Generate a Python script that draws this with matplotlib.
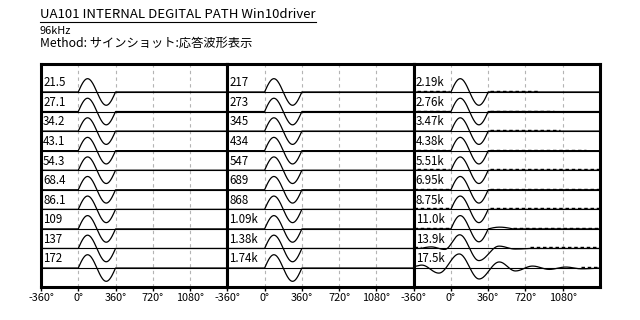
import numpy as np
import matplotlib
matplotlib.use("Agg")
import matplotlib.pyplot as plt
from matplotlib.lines import Line2D

plt.rcParams['font.family'] = ['Noto Sans CJK JP', 'DejaVu Sans']

# ---------------- data ----------------
title = "UA101 INTERNAL DEGITAL PATH Win10driver"
subtitle1 = "96kHz"
subtitle2 = "Method: サインショット:応答波形表示"

labels_p1 = ["21.5", "27.1", "34.2", "43.1", "54.3", "68.4", "86.1", "109", "137", "172"]
labels_p2 = ["217", "273", "345", "434", "547", "689", "868", "1.09k", "1.38k", "1.74k"]
labels_p3 = ["2.19k", "2.76k", "3.47k", "4.38k", "5.51k", "6.95k", "8.75k", "11.0k", "13.9k", "17.5k"]

xticks = [-360, 0, 360, 720, 1080]
xtick_labels = ["-360°", "0°", "360°", "720°", "1080°"]

# default response: one sine cycle (phase deg, value) knots
amp = 0.68
std_knots = [(-360, 0), (0, 0), (90, amp), (270, -amp), (360, 0), (1440, 0)]

# rows in panel 3 with visible ringing (knots)
knots_p3 = {
    "11.0k": [(-360, 0), (0, 0), (90, 0.68), (270, -0.66), (360, 0), (470, 0.09), (600, 0), (1440, 0)],
    "13.9k": [(-360, 0), (-290, 0), (-190, 0.08), (-60, -0.05), (85, 0.7), (270, -0.62), (465, 0.12), (620, -0.03), (760, 0), (1440, 0)],
    "17.5k": [(-360, 0.08), (-282, 0.15), (-117, -0.26), (80, 0.72), (272, -0.56), (467, 0.31), (623, -0.15), (788, 0.10), (950, -0.07), (1110, 0.05), (1260, -0.04), (1440, 0)],
}

# faint high-frequency residue drawn as dashes near the baseline (start, end phase)
residue_p3 = {
    "2.19k": [(-330, -20), (380, 860)],
    "2.76k": [(-330, -20), (380, 1000)],
    "3.47k": [(380, 1050)],
    "4.38k": [(-330, -20), (380, 1300)],
    "5.51k": [(-330, -20), (380, 1440)],
    "6.95k": [(-360, -20), (380, 1440)],
    "8.75k": [(-360, -20), (380, 1440)],
    "11.0k": [(-360, -20), (600, 1440)],
    "13.9k": [(-360, -290), (760, 1440)],
    "17.5k": [(1260, 1440)],
}


def curve(knots, n=40):
    xs, ys = [], []
    for (x0, v0), (x1, v1) in zip(knots[:-1], knots[1:]):
        t = np.linspace(0, 1, n)
        if v0 == 0 and v1 == 0:
            y = np.zeros_like(t)
        elif v0 == 0:
            y = v1 * np.sin(np.pi / 2 * t)
        elif v1 == 0:
            y = v0 * np.cos(np.pi / 2 * t)
        else:
            y = v0 + (v1 - v0) * (1 - np.cos(np.pi * t)) / 2
        xs.append(x0 + (x1 - x0) * t)
        ys.append(y)
    return np.concatenate(xs), np.concatenate(ys)


# ---------------- figure ----------------
W, H = 640, 320
fig = plt.figure(figsize=(W / 100, H / 100), dpi=100)

left_px = [41, 227, 413]
right_px = 600
top_px, bot_px = 64, 287
pw = (right_px - left_px[0]) / 3

panels = [labels_p1, labels_p2, labels_p3]
for pi, labels in enumerate(panels):
    lx = left_px[0] + pi * pw
    ax = fig.add_axes([lx / W, 1 - bot_px / H, pw / W, (bot_px - top_px) / H])
    ax.set_xlim(-360, 1440)
    ax.set_ylim(-9.97, 1.43)
    for xv in xticks[1:]:
        ax.axvline(xv, color="#b4b4b4", lw=0.8, dashes=(3, 3), zorder=1)
    for i, lab in enumerate(labels):
        base = -i
        ax.axhline(base, color="black", lw=0.8, zorder=2)
        knots = std_knots
        if pi == 2 and lab in knots_p3:
            knots = knots_p3[lab]
        x, y = curve(knots)
        ax.plot(x, base + y, color="black", lw=0.9, zorder=3)
        if pi == 2 and lab in residue_p3:
            for s, e in residue_p3[lab]:
                ax.plot([s, e], [base + 0.05, base + 0.05], color="black", lw=1.0,
                        dashes=(2.5, 2), zorder=3)
        ax.text(-340, base + 0.47, lab, fontsize=8.3, va="center", ha="left", zorder=4)
    ax.set_yticks([])
    ax.set_xticks(xticks)
    ax.set_xticklabels(xtick_labels, fontsize=7.8)
    ax.tick_params(axis="x", length=3, width=1, pad=1.5)
    for sp in ax.spines.values():
        sp.set_linewidth(2.2)

t = fig.text(40 / W, 1 - 14 / H, title, fontsize=9.5, va="center", ha="left")
fig.text(40 / W, 1 - 31 / H, subtitle1, fontsize=7.8, va="center", ha="left")
fig.text(40 / W, 1 - 43 / H, subtitle2, fontsize=8.8, va="center", ha="left")

fig.canvas.draw()
bb = t.get_window_extent()
uy = 1 - 22 / H
fig.add_artist(Line2D([bb.x0 / W, bb.x1 / W], [uy, uy], color="black", lw=0.8,
                      transform=fig.transFigure))

fig.savefig("out.png", dpi=100)
